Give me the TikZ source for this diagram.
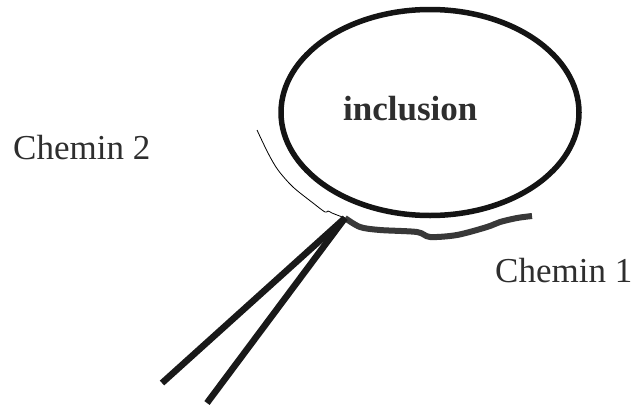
\documentclass[tikz,border=0pt]{standalone}
\usepackage{fontspec}
\setmainfont{Liberation Serif}
\usetikzlibrary{shapes.geometric}
\tikzset{
  rim/.style={ellipse, draw=black!92, line width=5.5pt, inner sep=0pt,
    minimum width=298pt, minimum height=206pt},
  lbl/.style={font=\fontsize{35}{40}\selectfont, text=black!82,
    anchor=base west, inner sep=0pt},
  boldlbl/.style={lbl, font=\fontsize{35}{40}\selectfont\bfseries},
  path1/.style={draw=black!78, line width=6pt, line join=round},
  path2/.style={draw=black, line width=0.8pt},
  leg/.style={draw=black!90, line width=6.5pt}
}

\begin{document}
\begin{tikzpicture}[x=1pt,y=-1pt]
  \useasboundingbox (0,0) rectangle (634,407);
  % the inclusion
  \node[rim] (incl) at (430,112.5) {};
  \node[boldlbl] (inclTxt) at (343,120) {inclusion};
  % labels
  \node[lbl] (lblTwo) at (13,159) {Chemin 2};
  \node[lbl] (lblOne) at (495,282) {Chemin 1};
  % junction and free ends
  \coordinate (jct) at (345,218);
  \coordinate (twoStart) at (257,130);
  \coordinate (oneEnd) at (532,216);
  \coordinate (legL) at (162,383);
  \coordinate (legR) at (207,403);
  % path 2 (thin, outside the left side)
  \draw[path2] plot[smooth] coordinates {(twoStart) (268,153) (278,170)
    (293,187) (313,203) (325,212) (328,211) (332,213) (337,215) (jct)};
  % path 1 (thick, under the inclusion)
  \draw[path1] plot[smooth, tension=0.5] coordinates {(jct) (360,227) (380,230)
    (417,232) (430,237) (457,235) (487,227) (500,222) (517,218) (oneEnd)};
  % the two legs
  \draw[leg] (jct) -- (legL);
  \draw[leg] (jct) -- (legR);
\end{tikzpicture}
\end{document}
